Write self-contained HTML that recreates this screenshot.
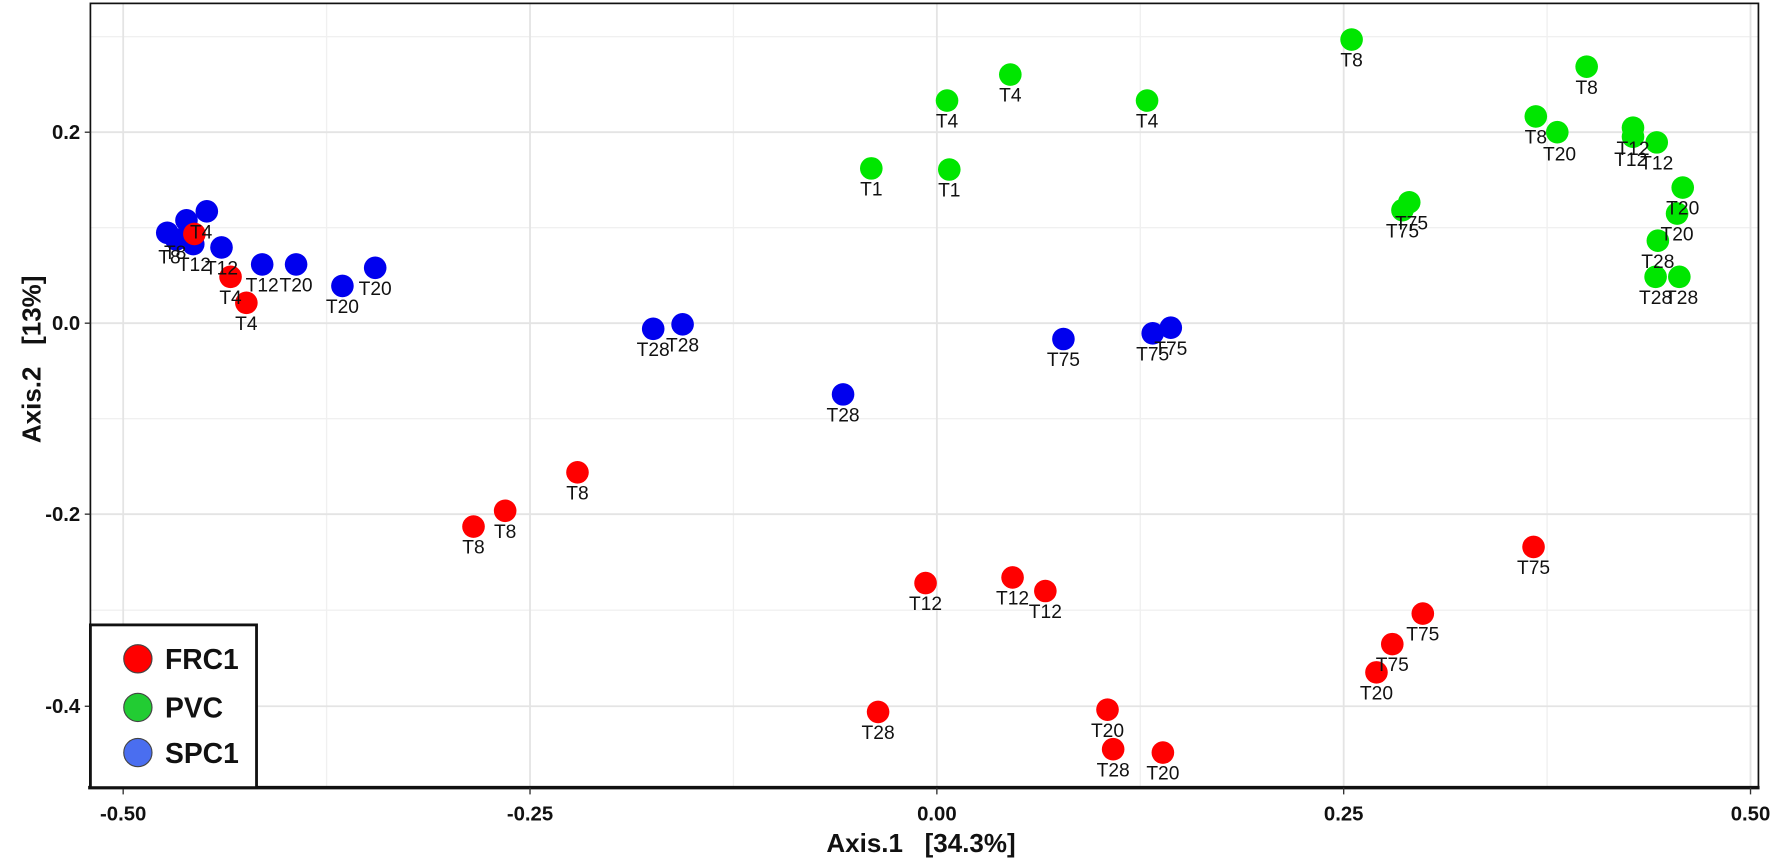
<!DOCTYPE html>
<html><head><meta charset="utf-8"><style>
html,body{margin:0;padding:0;background:#fff;}
svg{display:block;}
text{font-family:"Liberation Sans",sans-serif;}
.l{font-size:17px;fill:#111;text-anchor:middle;}
.t{font-size:18px;font-weight:bold;fill:#111;}
circle{}
</style></head><body>
<svg width="1772" height="863" viewBox="0 0 1568 763.7" preserveAspectRatio="none" xmlns="http://www.w3.org/2000/svg">
<rect x="0" y="0" width="1568" height="764" fill="#fff"/>
<g stroke="#f0f0f0" stroke-width="1.2">
<line x1="289" y1="3" x2="289" y2="697"/><line x1="649" y1="3" x2="649" y2="697"/>
<line x1="1009" y1="3" x2="1009" y2="697"/><line x1="1369" y1="3" x2="1369" y2="697"/>
<line x1="80" y1="32.5" x2="1556" y2="32.5"/><line x1="80" y1="201.5" x2="1556" y2="201.5"/>
<line x1="80" y1="370.5" x2="1556" y2="370.5"/><line x1="80" y1="540" x2="1556" y2="540"/>
</g>
<g stroke="#e4e4e4" stroke-width="1.6">
<line x1="109" y1="3" x2="109" y2="697"/><line x1="469" y1="3" x2="469" y2="697"/>
<line x1="829" y1="3" x2="829" y2="697"/><line x1="1189" y1="3" x2="1189" y2="697"/>
<line x1="1549" y1="3" x2="1549" y2="697"/>
<line x1="80" y1="117" x2="1556" y2="117"/><line x1="80" y1="286" x2="1556" y2="286"/>
<line x1="80" y1="455" x2="1556" y2="455"/><line x1="80" y1="625" x2="1556" y2="625"/>
</g>
<rect x="80" y="3" width="1476" height="694" fill="none" stroke="#111" stroke-width="1.5"/>
<line x1="78" y1="697" x2="1557" y2="697" stroke="#111" stroke-width="3"/>
<g stroke="#333" stroke-width="1.2">
<line x1="109" y1="697" x2="109" y2="703"/><line x1="469" y1="697" x2="469" y2="703"/>
<line x1="829" y1="697" x2="829" y2="703"/><line x1="1189" y1="697" x2="1189" y2="703"/>
<line x1="1549" y1="697" x2="1549" y2="703"/>
<line x1="75" y1="117" x2="80" y2="117"/><line x1="75" y1="286" x2="80" y2="286"/>
<line x1="75" y1="455" x2="80" y2="455"/><line x1="75" y1="625" x2="80" y2="625"/>
</g>
<g class="t" text-anchor="middle">
<text x="109" y="726">-0.50</text><text x="469" y="726">-0.25</text><text x="829" y="726">0.00</text>
<text x="1189" y="726">0.25</text><text x="1549" y="726">0.50</text>
</g>
<g class="t" text-anchor="end">
<text x="71" y="123">0.2</text><text x="71" y="292">0.0</text><text x="71" y="461">-0.2</text><text x="71" y="631">-0.4</text>
</g>
<text x="815" y="754" text-anchor="middle" style="font-size:23px;font-weight:bold;fill:#111">Axis.1&#160;&#160;&#160;[34.3%]</text>
<text transform="translate(36,318) rotate(-90)" text-anchor="middle" style="font-size:23px;font-weight:bold;fill:#111">Axis.2&#160;&#160;&#160;[13%]</text>

<g fill="#00e600">
<circle cx="771" cy="149" r="10"/><circle cx="840" cy="150" r="10"/><circle cx="838" cy="89" r="10"/>
<circle cx="894" cy="66" r="10"/><circle cx="1015" cy="89" r="10"/><circle cx="1196" cy="35" r="10"/>
<circle cx="1404" cy="59" r="10"/><circle cx="1359" cy="103" r="10"/><circle cx="1378" cy="117" r="10"/>
<circle cx="1445" cy="113" r="10"/><circle cx="1445" cy="121" r="10"/><circle cx="1466" cy="126" r="10"/>
<circle cx="1489" cy="166" r="10"/><circle cx="1484" cy="189" r="10"/><circle cx="1467" cy="213" r="10"/>
<circle cx="1465" cy="245" r="10"/><circle cx="1486" cy="245" r="10"/>
<circle cx="1241" cy="186" r="10"/><circle cx="1247" cy="179" r="10"/>
</g>
<g class="l">
<text x="771" y="173">T1</text><text x="840" y="174">T1</text><text x="838" y="113">T4</text>
<text x="894" y="90">T4</text><text x="1015" y="113">T4</text><text x="1196" y="59">T8</text>
<text x="1404" y="83">T8</text><text x="1359" y="127">T8</text><text x="1380" y="142">T20</text>
<text x="1445" y="137">T12</text><text x="1443" y="147">T12</text><text x="1466" y="150">T12</text>
<text x="1489" y="190">T20</text><text x="1484" y="213">T20</text><text x="1467" y="237">T28</text>
<text x="1465" y="269">T28</text><text x="1488" y="269">T28</text>
<text x="1241" y="210">T75</text><text x="1249" y="203">T75</text>
</g>

<g fill="#0000ee">
<circle cx="1036" cy="290" r="10"/><circle cx="1020" cy="295" r="10"/><circle cx="941" cy="300" r="10"/>
<circle cx="746" cy="349" r="10"/><circle cx="604" cy="287" r="10"/><circle cx="578" cy="291" r="10"/>
<circle cx="332" cy="237" r="10"/><circle cx="303" cy="253" r="10"/><circle cx="262" cy="234" r="10"/>
<circle cx="232" cy="234" r="10"/><circle cx="196" cy="219" r="10"/><circle cx="183" cy="187" r="10"/>
<circle cx="165" cy="195" r="10"/><circle cx="148" cy="206" r="10"/><circle cx="171" cy="216" r="10"/>
<circle cx="156" cy="212" r="10"/>
</g>
<g fill="#ff0000">
<circle cx="172" cy="207" r="10"/><circle cx="204" cy="245" r="10"/><circle cx="218" cy="268" r="10"/>
<circle cx="1357" cy="484" r="10"/><circle cx="1259" cy="543" r="10"/><circle cx="1232" cy="570" r="10"/>
<circle cx="1218" cy="595" r="10"/><circle cx="1029" cy="666" r="10"/><circle cx="985" cy="663" r="10"/>
<circle cx="980" cy="628" r="10"/><circle cx="777" cy="630" r="10"/><circle cx="819" cy="516" r="10"/>
<circle cx="896" cy="511" r="10"/><circle cx="925" cy="523" r="10"/><circle cx="511" cy="418" r="10"/>
<circle cx="447" cy="452" r="10"/><circle cx="419" cy="466" r="10"/>
</g>
<g class="l">
<text x="1036" y="314">T75</text><text x="1020" y="319">T75</text><text x="941" y="324">T75</text>
<text x="746" y="373">T28</text><text x="604" y="311">T28</text><text x="578" y="315">T28</text>
<text x="332" y="261">T20</text><text x="303" y="277">T20</text><text x="262" y="258">T20</text>
<text x="232" y="258">T12</text><text x="196" y="243">T12</text><text x="178" y="211">T4</text>
<text x="155" y="229">T8</text><text x="150" y="233">T8</text><text x="172" y="240">T12</text>
<text x="204" y="269">T4</text><text x="218" y="292">T4</text>
<text x="1357" y="508">T75</text><text x="1259" y="567">T75</text><text x="1232" y="594">T75</text>
<text x="1218" y="619">T20</text><text x="1029" y="690">T20</text><text x="985" y="687">T28</text>
<text x="980" y="652">T20</text><text x="777" y="654">T28</text><text x="819" y="540">T12</text>
<text x="896" y="535">T12</text><text x="925" y="547">T12</text><text x="511" y="442">T8</text>
<text x="447" y="476">T8</text><text x="419" y="490">T8</text>
</g>

<rect x="80" y="553" width="147" height="144" fill="#fff" stroke="#111" stroke-width="2.5"/>
<circle cx="122" cy="583" r="12.5" fill="#ff0000" stroke="#444" stroke-width="1"/>
<circle cx="122" cy="626" r="12.5" fill="#22cc33" stroke="#444" stroke-width="1"/>
<circle cx="122" cy="666" r="12.5" fill="#4a6ef0" stroke="#444" stroke-width="1"/>
<g style="font-size:25px;font-weight:bold;fill:#111">
<text x="146" y="592">FRC1</text><text x="146" y="635">PVC</text><text x="146" y="675">SPC1</text>
</g>
</svg>
</body></html>
